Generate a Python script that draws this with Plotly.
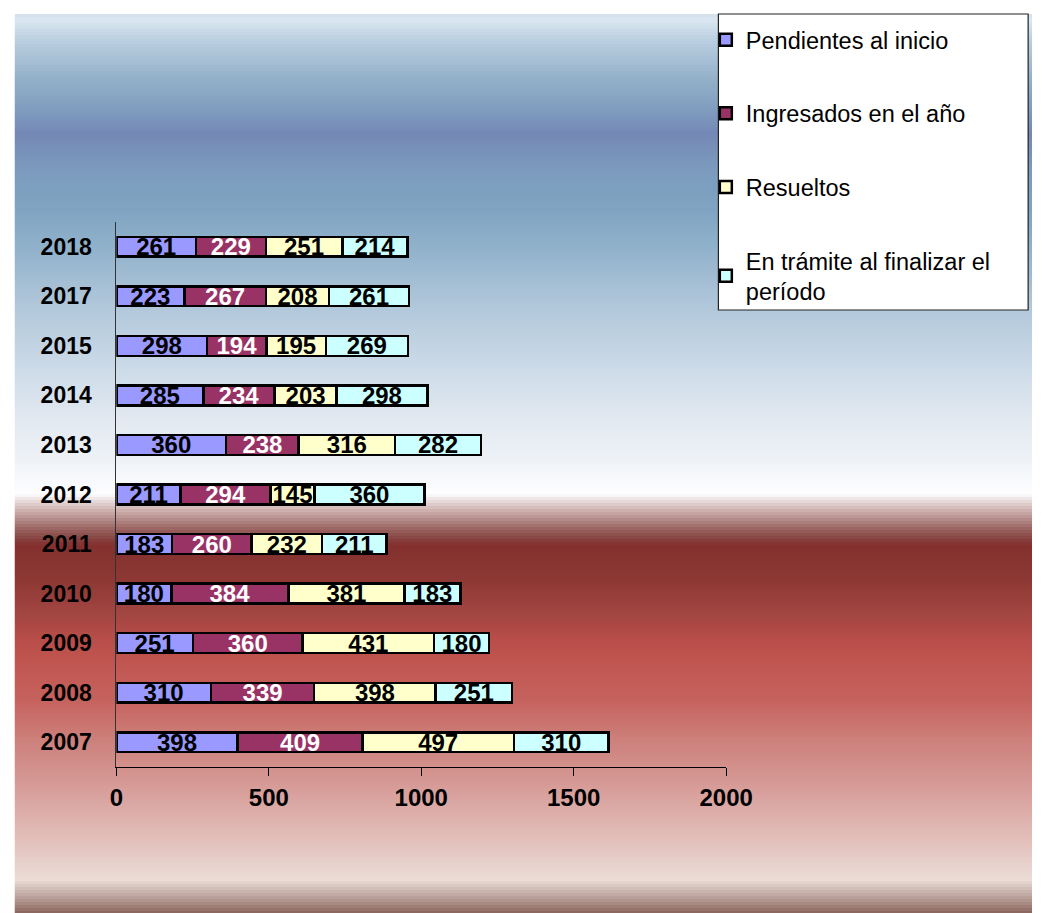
import plotly.graph_objects as go

# Categories (bottom to top) and series values
years = ["2007", "2008", "2009", "2010", "2011", "2012", "2013", "2014", "2015", "2017", "2018"]
pendientes = [398, 310, 251, 180, 183, 211, 360, 285, 298, 223, 261]
ingresados = [409, 339, 360, 384, 260, 294, 238, 234, 194, 267, 229]
resueltos = [497, 398, 431, 381, 232, 145, 316, 203, 195, 208, 251]
en_tramite = [310, 251, 180, 183, 211, 360, 282, 298, 269, 261, 214]

series_names = ["Pendientes al inicio", "Ingresados en el año", "Resueltos",
                "En trámite al finalizar el<br>período"]
x_ticks = [0, 500, 1000, 1500, 2000]

W, H = 1059, 913
FONT = "Arial, Liberation Sans, sans-serif"

series = [pendientes, ingresados, resueltos, en_tramite]
colors = ["#9999ff", "#993366", "#ffffcc", "#ccffff"]
text_colors = ["black", "white", "black", "black"]

fig = go.Figure()
for i, (name, vals) in enumerate(zip(series_names, series)):
    fig.add_trace(go.Bar(
        y=years, x=vals, name=name, orientation="h",
        legendgroup=f"g{i}",
        marker=dict(color=colors[i], line=dict(color="black", width=2.5)),
        text=vals, textposition="inside", insidetextanchor="middle",
        textangle=0, constraintext="none",
        textfont=dict(family=FONT, size=24, color=text_colors[i], weight="bold"),
        hoverinfo="x+y+name",
    ))


def px_x(p):
    return p / W


def px_y(p):
    return 1 - p / H


# vertical background gradient (pixel row -> colour)
stops = [
    (14, "#d4e1ed"), (20, "#dbe7f2"), (40, "#bacfe0"), (80, "#93b0c9"),
    (110, "#7f9cbf"), (133, "#7488b5"), (170, "#7c9bbe"), (210, "#7fa4c1"),
    (250, "#92b2cb"), (300, "#aec5d9"), (360, "#c9d8e6"), (420, "#e2e9f1"),
    (460, "#eef2f7"), (494, "#fefeff"), (497, "#f3eeee"), (503, "#e2d2d1"),
    (510, "#cfb3b1"), (517, "#bb9694"), (524, "#a77674"), (531, "#955d5a"),
    (538, "#884543"), (545, "#83302e"), (580, "#8d3834"), (610, "#a04440"),
    (640, "#b84d49"), (660, "#c0554f"), (700, "#c6625e"), (740, "#cd807b"),
    (780, "#d59894"), (810, "#dcaca8"), (840, "#e2bfba"), (872, "#e9d7d1"),
    (880, "#ebdcd5"), (886, "#d9c6c0"), (893, "#c6afa9"), (900, "#b39891"),
    (906, "#9f8078"), (913, "#8b665e"),
]


def hex2rgb(h):
    h = h.lstrip("#")
    return tuple(int(h[k:k + 2], 16) for k in (0, 2, 4))


def colour_at(yp):
    for (y0, c0), (y1, c1) in zip(stops[:-1], stops[1:]):
        if y0 <= yp <= y1:
            t = (yp - y0) / (y1 - y0) if y1 > y0 else 0
            a, b = hex2rgb(c0), hex2rgb(c1)
            return "rgb(%d,%d,%d)" % tuple(round(a[k] + (b[k] - a[k]) * t) for k in range(3))
    return "white"


shapes = []
step = 3
for yp in range(14, 913, step):
    shapes.append(dict(
        type="rect", xref="paper", yref="paper", layer="below",
        x0=px_x(8), x1=1, y0=px_y(min(yp + step, 913)), y1=px_y(yp),
        fillcolor=colour_at(yp + step / 2), line=dict(width=0),
    ))

# legend frame
shapes.append(dict(
    type="rect", xref="paper", yref="paper", layer="below",
    x0=px_x(735), x1=px_x(1055), y0=px_y(310), y1=px_y(14),
    fillcolor="white", line=dict(color="#222222", width=1.2),
))

fig.update_layout(
    width=W, height=H, autosize=False,
    margin=dict(l=0, r=0, t=0, b=0),
    paper_bgcolor="white", plot_bgcolor="rgba(0,0,0,0)",
    barmode="stack", bargap=0.6,
    font=dict(family=FONT, color="black"),
    uniformtext=dict(minsize=24, mode="show"),
    showlegend=True,
    legend=dict(
        x=px_x(722), y=px_y(18), xanchor="left", yanchor="top",
        bgcolor="rgba(0,0,0,0)", borderwidth=0,
        traceorder="grouped", tracegroupgap=40, itemwidth=30,
        font=dict(family=FONT, size=23.5, color="black"),
    ),
    xaxis=dict(
        domain=[px_x(113), px_x(743)], range=[0, 2000],
        tickvals=x_ticks, ticktext=[str(v) for v in x_ticks],
        showgrid=False, zeroline=False,
        showline=True, linecolor="black", linewidth=1,
        ticks="outside", ticklen=8, tickcolor="black", tickwidth=1,
        ticklabelstandoff=1,
        tickfont=dict(family=FONT, size=24, color="black", weight="bold"),
        fixedrange=True,
    ),
    yaxis=dict(
        domain=[px_y(767), px_y(222)],
        type="category", categoryorder="array", categoryarray=years,
        range=[-0.5, len(years) - 0.5],
        showgrid=False, zeroline=False,
        showline=True, linecolor="#333333", linewidth=1,
        ticks="", ticklabelstandoff=19,
        tickfont=dict(family=FONT, size=23, color="black", weight="bold"),
        fixedrange=True,
    ),
    shapes=shapes,
)

fig.write_html("out.html")
